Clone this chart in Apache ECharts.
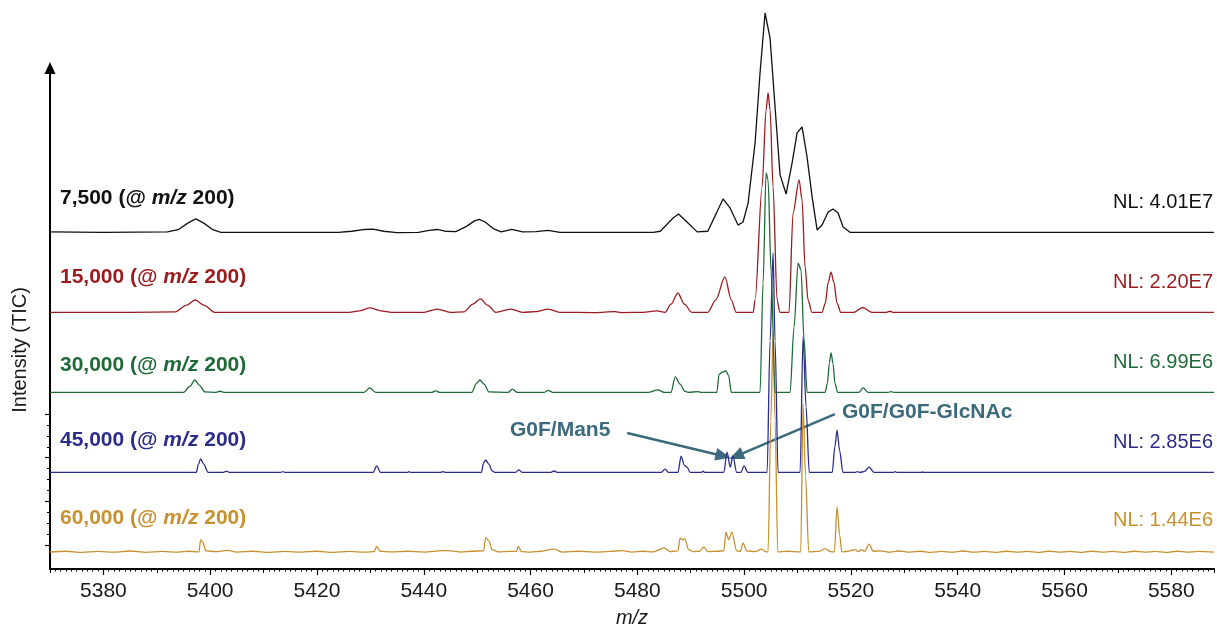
<!DOCTYPE html>
<html>
<head>
<meta charset="utf-8">
<script src="https://cdn.jsdelivr.net/npm/echarts@6/dist/echarts.min.js"></script>
<style>
  html, body { margin: 0; padding: 0; background: #fff; }
  #chart { width: 1217px; height: 629px; }
</style>
</head>
<body>
<div id="chart"></div>
<script>
// m/z range shown
var mzMin = 5370, mzMax = 5588;
var xTicks = [5380, 5400, 5420, 5440, 5460, 5480, 5500, 5520, 5540, 5560, 5580];

// resolution settings and normalisation levels, top to bottom
var resolutions = ['7,500', '15,000', '30,000', '45,000', '60,000'];
var nlLevels = ['4.01E7', '2.20E7', '6.99E6', '2.85E6', '1.44E6'];
var colors = ['#111111', '#9b1b1f', '#1f6b38', '#2b2d8a', '#c8912f'];

// relative intensity (%) vs m/z
var res7500 = [[5370,0.5],[5380,0.3],[5392,0.5],[5394,1.5],[5395.8,4.5],[5397.3,6.4],[5398.8,4.5],[5400.5,1.5],[5402,0.3],
  [5424,0.3],[5426.5,0.8],[5429,1.6],[5430.5,1.8],[5432.5,0.8],[5435,0.2],[5439,0.3],[5441,1.2],[5442.5,1.6],[5444,0.8],
  [5446,0.6],[5448,3],[5449.5,5.5],[5450.4,6.2],[5451.5,5],[5453,2],[5454.5,0.5],[5456.5,1.6],[5458.5,0.5],[5461,0.6],
  [5463.3,1.2],[5465.5,0.3],[5483,0.3],[5484.3,0.8],[5486.7,6.8],[5487.7,8.6],[5489.3,5],[5491.2,0.5],[5493.2,0.8],
  [5494.9,9.5],[5496.05,15.5],[5497.36,11.4],[5498.86,3.6],[5499.8,5],[5500.74,13.6],[5502.05,40.9],[5502.98,72.7],
  [5503.92,100],[5504.86,88.6],[5505.79,57.3],[5506.73,26.4],[5507.86,17.7],[5508.98,31.8],[5509.92,45.5],[5510.85,48.2],
  [5511.79,34.5],[5512.73,16.4],[5513.67,1.4],[5514.6,3.6],[5515.73,9.5],[5516.65,10.9],[5517.6,9.1],[5518.53,2.7],
  [5519.84,0.3],[5588,0.3]];

var res15000 = [[5370,0.3],[5385,0.3],[5393.5,0.5],[5395.5,3.5],[5397.2,5.9],[5398.9,3.5],[5400.8,0.3],[5412,0.3],
  [5426,0.3],[5428,1],[5429.9,2.3],[5432,1],[5434,0.3],[5440,0.3],[5442.5,1.8],[5445,0.3],[5447.5,0.5],[5449.2,4],
  [5450.6,6.4],[5452,3.5],[5453.5,0.3],[5456.3,1.8],[5458.5,0.3],[5461,0.6],[5463.3,1.8],[5465.5,0.3],[5472,0.2],
  [5475.8,0.6],[5477,0.2],[5481,0.3],[5483.7,1],[5485.2,0.3],[5486.3,4],[5487.6,9.1],[5488.8,4],[5490.2,0.3],
  [5493.2,0.3],[5494.7,6],[5496.4,16.4],[5497.6,6],[5498.5,0.3],[5501.7,0.3],[5502.05,5.9],[5503.36,57.3],
  [5504.11,92.3],[5504.48,100],[5504.86,92.3],[5505.42,57.3],[5506.17,5.9],[5506.7,0.3],[5508.4,0.3],[5509.17,45.5],
  [5510.29,60.5],[5510.85,51.4],[5511.42,20.9],[5511.97,5.9],[5512.7,0.3],[5514.6,0.3],[5515.2,4.5],[5515.75,14],
  [5516.28,18.6],[5516.8,14],[5517.4,4.5],[5518.1,0.3],[5520.5,0.3],[5522.2,2.5],[5524,0.3],[5526.5,0.3],[5527.3,0.8],
  [5528,0.3],[5588,0.3]];

var res30000 = [[5370,0.3],[5395,0.3],[5396.2,3],[5397.1,5.9],[5398,3.5],[5399,0.5],[5401,0.3],[5401.8,0.8],[5402.8,0.3],
  [5428.8,0.3],[5429.9,2.3],[5431,0.3],[5441.5,0.3],[5442.2,1],[5443,0.3],[5449,0.3],[5449.9,4.5],[5450.5,5.9],
  [5451.3,4],[5452.2,0.5],[5455.8,0.3],[5456.6,1.8],[5457.5,0.3],[5462.6,0.3],[5463.3,1.2],[5464.2,0.3],[5482,0.3],
  [5483.9,1.4],[5485,0.3],[5486.3,0.3],[5487.1,7.3],[5488,4],[5488.9,0.8],[5489.5,0.3],[5491.4,0.6],[5492,0.3],
  [5494.9,0.3],[5495.3,8.5],[5495.9,9.5],[5496.6,10],[5497.1,8],[5497.6,0.3],[5502.98,0.3],[5503.55,50],[5504.11,100],
  [5504.48,97],[5505.05,55],[5505.79,0.3],[5508.6,0.3],[5509.35,30],[5510.1,59],[5510.66,56],[5511.2,25],[5511.8,0.3],
  [5515.16,0.3],[5515.6,4.5],[5515.95,13.5],[5516.28,18.2],[5516.65,13.5],[5517,4.5],[5517.5,0.3],[5521.5,0.3],
  [5522.3,2.3],[5523.2,0.3],[5527,0.3],[5527.5,0.6],[5528,0.3],[5588,0.3]];

var res45000 = [[5370,0.3],[5397.4,0.3],[5397.8,4],[5398.2,6.4],[5398.8,4],[5399.6,0.3],[5402.5,0.3],[5403,0.8],
  [5403.6,0.3],[5413.2,0.3],[5413.6,0.6],[5414,0.3],[5430.5,0.3],[5431.2,3.2],[5431.9,0.3],[5437,0.3],[5437.2,0.6],
  [5437.5,0.3],[5443,0.3],[5443.6,0.6],[5444.2,0.3],[5450.8,0.3],[5451.2,4.5],[5451.6,5.9],[5452.2,4],[5452.8,1],
  [5453.3,0.3],[5457.2,0.3],[5457.8,1.4],[5458.4,0.3],[5463.8,0.3],[5464.4,0.9],[5465,0.3],[5484.5,0.3],[5485.2,1.8],
  [5485.8,0.3],[5487.6,0.3],[5488.2,7.7],[5488.8,3.5],[5489.3,2.7],[5489.9,0.3],[5492,0.3],[5492.3,0.8],[5492.6,0.3],
  [5496.2,0.3],[5496.8,9.5],[5497.4,2.7],[5497.9,7.7],[5498.6,0.3],[5499.4,0.3],[5500,3.2],[5500.7,0.3],[5504.3,0.3],
  [5504.86,60],[5505.42,100],[5505.79,60],[5506.36,0.3],[5510.48,0.3],[5511.04,62],[5511.6,30],[5512.2,0.3],
  [5516.5,0.3],[5517,12],[5517.4,19.5],[5517.9,10],[5518.5,0.3],[5520.8,0.3],[5521.2,0.6],[5521.6,0.3],[5522.5,0.6],
  [5523.4,2.7],[5524.3,0.3],[5528,0.3],[5528.3,0.6],[5528.6,0.3],[5533.2,0.3],[5533.4,0.5],[5533.6,0.3],[5588,0.3]];

var res60000 = [[5370,0.4],[5373,0.8],[5376,0.3],[5379,0.7],[5382,0.4],[5385,0.9],[5388,0.3],[5391,0.7],[5394,0.4],
  [5396,0.8],[5397.9,0.5],[5398.2,6],[5398.6,5],[5399.2,1],[5401,0.6],[5403.2,1.2],[5405,0.4],[5408,0.8],[5411,0.3],
  [5414,0.7],[5417,0.4],[5420,0.8],[5423,0.3],[5426,0.7],[5429,0.4],[5430.7,0.6],[5431.2,3],[5431.8,0.8],[5434,0.5],
  [5437,0.8],[5440,0.4],[5443.6,1.1],[5445,1],[5447,0.4],[5449,0.8],[5451.2,1],[5451.6,7],[5452.2,5.5],[5452.8,1.5],
  [5454,0.5],[5456,0.7],[5457.4,0.8],[5457.7,3],[5458.3,0.6],[5460,0.4],[5462,0.8],[5464.4,1.8],[5466,0.4],
  [5469,0.8],[5472,0.4],[5475,0.7],[5477.1,1.1],[5479,0.4],[5481,0.8],[5483,0.5],[5485,2.3],[5486.2,0.6],[5487.6,1],
  [5488,6.8],[5488.5,6],[5488.9,6.5],[5489.6,1.5],[5490.5,0.6],[5491.6,0.8],[5492.5,2.7],[5493.2,0.6],[5495,0.8],
  [5496.2,1],[5496.6,9.5],[5497.1,6],[5497.7,9.5],[5498.6,1],[5499.3,0.8],[5499.8,4.5],[5500.5,1],[5502,0.6],
  [5503.4,1.8],[5504,0.6],[5504.48,0.5],[5505,60],[5505.42,100],[5505.8,60],[5506.3,0.5],[5508,0.8],[5510.6,0.5],
  [5511.04,67.7],[5511.5,35],[5512.1,0.5],[5514,0.7],[5515.2,2],[5516.2,0.6],[5516.9,0.5],[5517.4,20.9],[5517.9,8],
  [5518.3,0.5],[5519.5,0.8],[5520.8,1.5],[5521.4,0.6],[5521.9,1.5],[5522.6,0.7],[5523.4,4],[5524.2,0.8],[5525.5,1],
  [5527,0.4],[5529,0.9],[5531,0.4],[5533,0.8],[5535,0.3],[5537,0.7],[5539,0.4],[5541,0.9],[5543,0.4],[5545,0.7],
  [5547,0.3],[5549,0.8],[5551,0.4],[5553,0.7],[5555,0.3],[5557,0.8],[5559,0.4],[5561,0.7],[5563,0.3],[5565,0.8],
  [5567,0.4],[5569,0.7],[5571,0.3],[5573,0.8],[5575,0.4],[5577,0.7],[5579,0.3],[5581,0.8],[5583,0.4],[5585,0.7],[5588,0.4]];

var traces = [res7500, res15000, res30000, res45000, res60000];

// peak annotations: [label, arrow start, arrow tip] in (m/z, % of the 45,000 trace)
var annotations = [
  ['G0F/Man5', [5478.1, 18.2], [5496.05, 7.7]],
  ['G0F/G0F-GlcNAc', [5517.0, 26.8], [5498.5, 7.7]]
];

var font = '"Liberation Sans", Arial, Helvetica, sans-serif';
var annColor = '#3b6a7c';

var chart = echarts.init(document.getElementById('chart'));

// pixel baseline of each stacked trace, each trace 220px tall at 100%
var baselines = [233, 313, 393, 473, 553];
var labelY = [198, 277, 365, 440, 518];
var nlY = [202, 282, 362, 442, 520];

var grids = [
  { left: 50, right: 3, top: 68, bottom: 60 },
  { left: 50, right: 3, top: 68, bottom: 60 },
  { left: 50, width: 1, top: 414, bottom: 84 }
];
var xAxes = [
  {
    gridIndex: 0, type: 'value', min: mzMin, max: mzMax,
    axisLine: { lineStyle: { color: '#000', width: 2 } },
    axisTick: { length: 6, customValues: xTicks, lineStyle: { color: '#000', width: 1.2 } },
    axisLabel: {
      fontSize: 21, color: '#1a1a1a', margin: 12, fontFamily: font, customValues: xTicks,
      formatter: function (v) { return String(v); }
    },
    splitLine: { show: false }
  },
  {
    gridIndex: 1, type: 'value', min: mzMin, max: mzMax, interval: 10,
    axisLine: { show: false },
    axisTick: { length: 4, lineStyle: { color: '#000', width: 1 } },
    minorTick: { show: true, splitNumber: 10, length: 2.5, lineStyle: { color: '#000', width: 1 } },
    axisLabel: { show: false }, splitLine: { show: false }
  },
  { gridIndex: 2, type: 'value', min: mzMin, max: mzMax, show: false }
];
var yAxes = [
  {
    gridIndex: 0, type: 'value', min: 0, max: 1,
    axisLine: { show: true, onZero: false, symbol: ['none', 'triangle'], symbolSize: [11, 12],
      lineStyle: { color: '#000', width: 2 } },
    axisTick: { show: false }, axisLabel: { show: false }, splitLine: { show: false }
  },
  { gridIndex: 1, type: 'value', min: 0, max: 1, show: false },
  {
    gridIndex: 2, type: 'value', min: 0, max: 3, interval: 1,
    axisLine: { show: false, onZero: false },
    axisTick: { length: 5, lineStyle: { color: '#000', width: 1.2 } },
    minorTick: { show: true, splitNumber: 4, length: 3, lineStyle: { color: '#000', width: 1 } },
    axisLabel: { show: false }, splitLine: { show: false }
  }
];
var series = [];
var graphics = [];

traces.forEach(function (data, i) {
  var gi = grids.length;
  grids.push({ left: 50, right: 3, bottom: 629 - baselines[i], height: 220 });
  xAxes.push({ gridIndex: gi, type: 'value', min: mzMin, max: mzMax, show: false });
  yAxes.push({ gridIndex: gi, type: 'value', min: 0, max: 100, show: false });
  var s = {
    type: 'line', xAxisIndex: gi, yAxisIndex: gi, data: data,
    symbol: 'none', clip: false, silent: true,
    smooth: i === 0 ? false : 0.3, smoothMonotone: 'x',
    lineStyle: { color: colors[i], width: 1.3 }, z: 10 - i
  };
  if (i === 3) {
    s.markLine = {
      silent: true, symbol: ['none', 'triangle'], symbolSize: [13, 15],
      label: { show: false },
      lineStyle: { color: annColor, width: 2.5, type: 'solid' },
      data: annotations.map(function (a) {
        return [{ coord: a[1] }, { coord: a[2] }];
      })
    };
  }
  series.push(s);

  var rich = {
    b: { fontSize: 21, fontWeight: 'bold', fontFamily: font, fill: colors[i], color: colors[i] },
    i: { fontSize: 21, fontWeight: 'bold', fontStyle: 'italic', fontFamily: font, fill: colors[i], color: colors[i] }
  };
  graphics.push({
    type: 'text', x: 60, y: labelY[i],
    style: { text: '{b|' + resolutions[i] + ' (@ }{i|m/z}{b| 200)}', rich: rich, verticalAlign: 'middle', fill: colors[i] }
  });
  graphics.push({
    type: 'text', x: 1213, y: nlY[i],
    style: { text: 'NL: ' + nlLevels[i], font: '20px ' + font, fill: colors[i], align: 'right', verticalAlign: 'middle' }
  });
});

graphics.push({
  type: 'text', x: 510, y: 430,
  style: { text: annotations[0][0], font: 'bold 21px ' + font, fill: annColor, verticalAlign: 'middle' }
});
graphics.push({
  type: 'text', x: 842, y: 412,
  style: { text: annotations[1][0], font: 'bold 21px ' + font, fill: annColor, verticalAlign: 'middle' }
});
graphics.push({
  type: 'text', x: 20, y: 350, rotation: Math.PI / 2,
  style: { text: 'Intensity (TIC)', font: '20px ' + font, fill: '#1a1a1a', align: 'center', verticalAlign: 'middle' }
});
graphics.push({
  type: 'text', x: 632, y: 618,
  style: { text: 'm/z', font: 'italic 20px ' + font, fill: '#1a1a1a', align: 'center', verticalAlign: 'middle' }
});

chart.setOption({
  animation: false,
  backgroundColor: '#fff',
  grid: grids,
  xAxis: xAxes,
  yAxis: yAxes,
  series: series,
  graphic: graphics
});
</script>
</body>
</html>
